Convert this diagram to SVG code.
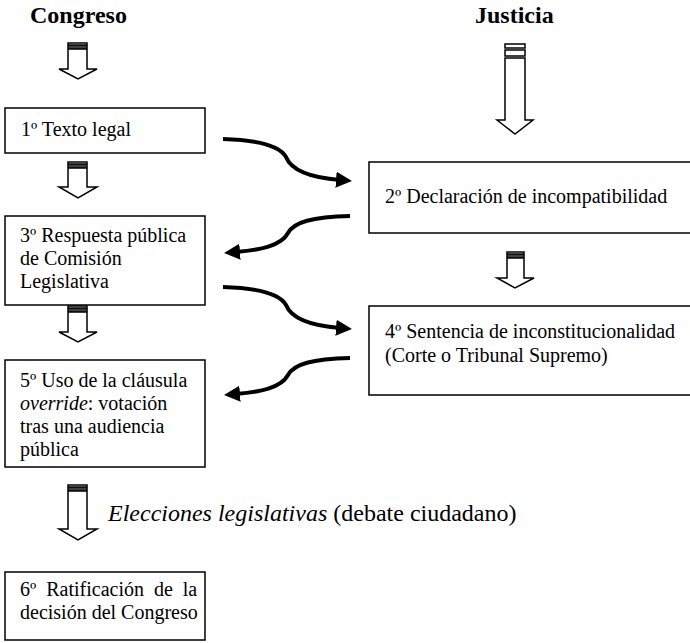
<svg xmlns="http://www.w3.org/2000/svg" width="690" height="643" viewBox="0 0 690 643">
<defs>
<style>
.box{fill:#fff;stroke:#000;stroke-width:1.5}
.t{font-family:"Liberation Serif","Times New Roman",serif;font-size:20px;fill:#000}
.h{font-family:"Liberation Serif","Times New Roman",serif;font-size:24px;font-weight:bold;fill:#000}
.blk{fill:#fff;stroke:#000;stroke-width:1.5}
.conn{fill:none;stroke:#000;stroke-width:4}
</style>
<marker id="ah" markerWidth="4" markerHeight="4" refX="1" refY="2" orient="auto" markerUnits="strokeWidth">
<path d="M0,0 L4,2 L0,4 Z" fill="#000"/>
</marker>
<g id="sArrow">
<rect class="blk" x="68" y="0" width="19" height="2.5"/>
<rect class="blk" x="68" y="3.5" width="19" height="2.5"/>
</g>
</defs>
<rect width="690" height="643" fill="#fff"/>

<text class="h" x="30" y="23">Congreso</text>
<text class="h" x="475" y="23">Justicia</text>

<g id="block-arrows">
<g id="barrow1">
<rect class="blk" x="68" y="43" width="19" height="2"/>
<rect class="blk" x="68" y="46" width="19" height="2"/>
<path class="blk" d="M68,49 L87,49 L87,69 L97,69 L78,79 L59,69 L68,69 Z"/>
</g>
<g id="barrow2">
<rect class="blk" x="68" y="162" width="19" height="2"/>
<rect class="blk" x="68" y="165" width="19" height="2"/>
<path class="blk" d="M68,168 L87,168 L87,187 L97,187 L78,198 L59,187 L68,187 Z"/>
</g>
<g id="barrow3">
<rect class="blk" x="68" y="306" width="19" height="2"/>
<rect class="blk" x="68" y="309" width="19" height="2"/>
<path class="blk" d="M68,312 L87,312 L87,332 L97,332 L78,342 L59,332 L68,332 Z"/>
</g>
<g id="barrow4">
<rect class="blk" x="68" y="485" width="19" height="2"/>
<rect class="blk" x="68" y="488" width="19" height="2"/>
<path class="blk" d="M68,491 L87,491 L87,529 L97,529 L78,540 L59,529 L68,529 Z"/>
</g>
<g id="barrow5">
<rect class="blk" x="505" y="44" width="20" height="4"/>
<rect class="blk" x="505" y="50" width="20" height="6"/>
<path class="blk" d="M505,58 L525,58 L525,120 L533,120 L515,134 L497,120 L505,120 Z"/>
</g>
<g id="barrow6">
<rect class="blk" x="507" y="252" width="17" height="2"/>
<rect class="blk" x="507" y="255" width="17" height="2"/>
<path class="blk" d="M507,258 L524,258 L524,278 L534,278 L515,288 L497,278 L507,278 Z"/>
</g>
</g>

<g id="n1">
<rect class="box" x="5" y="108" width="200" height="45"/>
<text class="t" x="21" y="136">1º Texto legal</text>
</g>
<g id="n2">
<rect class="box" x="369" y="162" width="330" height="71"/>
<text class="t" x="385" y="203">2º Declaración de incompatibilidad</text>
</g>
<g id="n3">
<rect class="box" x="5" y="216" width="200" height="89"/>
<text class="t" x="20" y="242">3º Respuesta pública</text>
<text class="t" x="20" y="265">de Comisión</text>
<text class="t" x="20" y="288">Legislativa</text>
</g>
<g id="n4">
<rect class="box" x="369" y="306" width="330" height="89"/>
<text class="t" x="385" y="338">4º Sentencia de inconstitucionalidad</text>
<text class="t" x="385" y="362">(Corte o Tribunal Supremo)</text>
</g>
<g id="n5">
<rect class="box" x="5" y="360" width="200" height="107"/>
<text class="t" x="20" y="387">5º Uso de la cláusula</text>
<text class="t" x="20" y="410"><tspan font-style="italic">override</tspan>: votación</text>
<text class="t" x="20" y="433">tras una audiencia</text>
<text class="t" x="20" y="456">pública</text>
</g>
<g id="n6">
<rect class="box" x="5" y="572" width="200" height="68"/>
<text class="t" x="20" y="596" word-spacing="5">6º Ratificación de la</text>
<text class="t" x="20" y="619">decisión del Congreso</text>
</g>

<text class="t" x="108" y="521" font-size="24" style="font-size:24px"><tspan font-style="italic">Elecciones legislativas</tspan> (debate ciudadano)</text>

<g id="connectors">
<path class="conn" marker-end="url(#ah)" d="M223,139 C260,140 280,146 286,157 C292,172 315,178 340,180"/>
<path class="conn" marker-end="url(#ah)" d="M350,216 C312,217 294,222 288,233 C281,246 260,250 236,252"/>
<path class="conn" marker-end="url(#ah)" d="M223,287 C260,288 280,294 286,305 C292,320 315,326 340,328"/>
<path class="conn" marker-end="url(#ah)" d="M350,358 C312,359 294,364 288,375 C281,388 260,392 236,394"/>
</g>
</svg>
